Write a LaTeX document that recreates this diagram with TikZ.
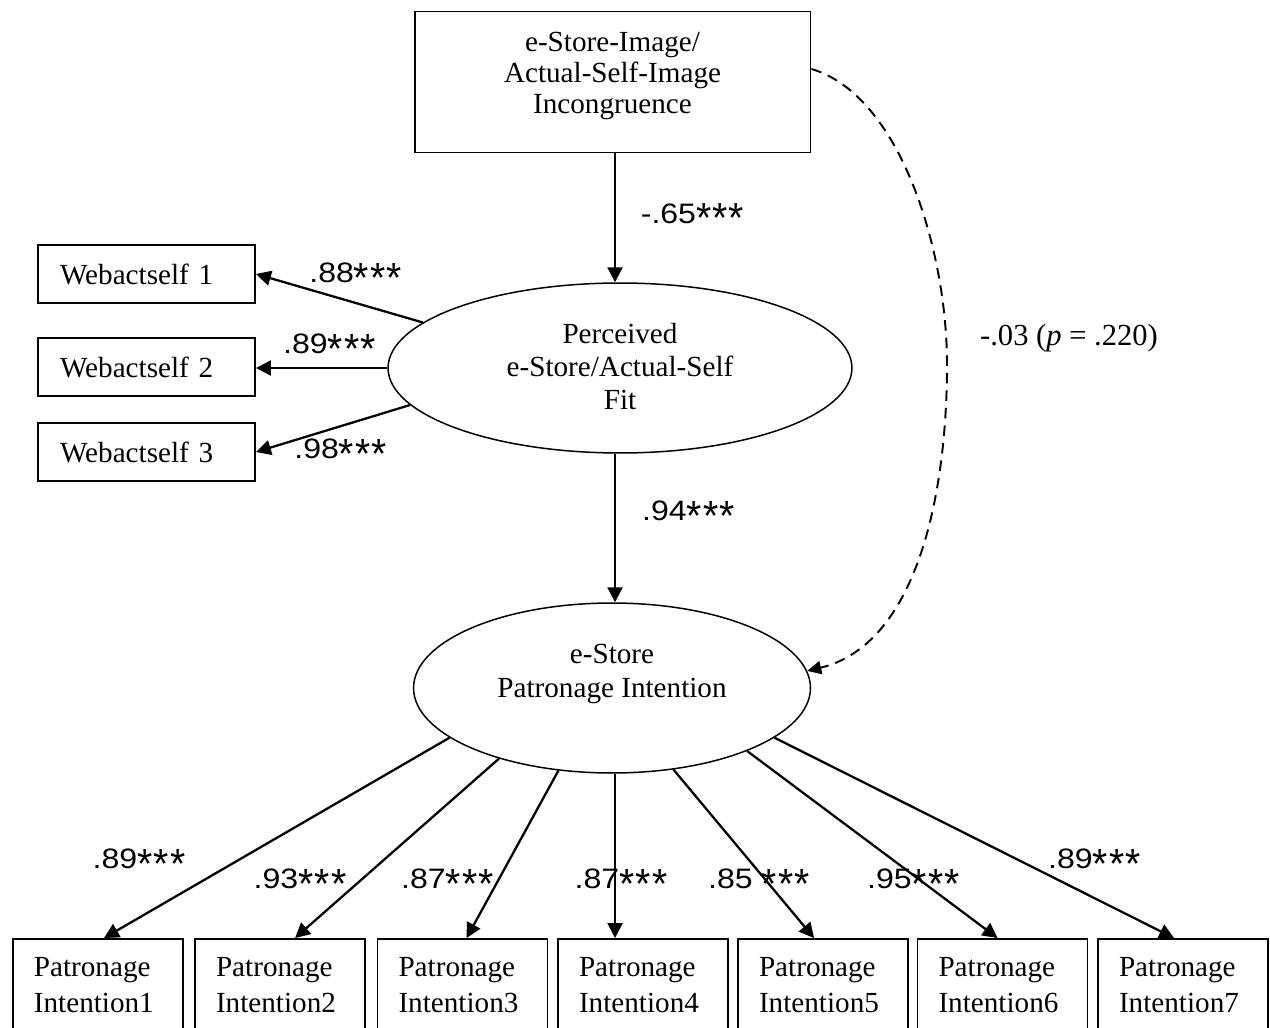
\documentclass[tikz,border=0pt]{standalone}
\usepackage{graphicx}
\usepackage{fontspec}
\setmainfont{Liberation Serif}
\newfontfamily\coeffont[FakeStretch=1.14]{Liberation Sans}
\usetikzlibrary{arrows.meta,shapes.geometric,calc}
% significance stars, drawn a little larger and looser than the font's own asterisks
\newcommand\onestar{\scalebox{1.22}[1.5]{*}}
\newcommand\sigstars{\raisebox{-5.3pt}{\onestar\kern0.7pt\onestar\kern0.7pt\onestar}}

\begin{document}
\begin{tikzpicture}[x=0.02cm, y=-0.02cm,
  every node/.style={font=\fontsize{16.6}{19}\selectfont},
  factorbox/.style={draw, line width=1.1pt, rectangle, inner sep=0pt,
    minimum width=7.92cm, minimum height=2.82cm},
  webbox/.style={draw, line width=1.1pt, rectangle, inner ysep=0pt,
    inner xsep=0.44cm, text width=3.46cm, align=left, minimum height=1.16cm},
  intbox/.style={draw, line width=1.1pt, rectangle, inner ysep=0pt,
    inner xsep=0.42cm, text width=2.56cm, align=left, minimum height=1.852cm,
    font=\fontsize{16.6}{20.4}\selectfont},
  latent/.style={draw, ellipse, line width=0.85pt, inner sep=0pt},
  caption/.style={align=center, inner sep=0pt},
  coef/.style={inner sep=0pt, yshift=-0.07cm, font=\coeffont\fontsize{16}{19}\selectfont},
  effect/.style={line width=1.3pt, -{Triangle[length=8.5pt,width=8.5pt]}},
  direct/.style={line width=1.1pt, dash pattern=on 6pt off 4pt,
    -{Triangle[length=8pt,width=7.5pt]}}
]
\useasboundingbox (0,0) rectangle (1270,1027);

% exogenous factor
\node[factorbox] (incong) at (612.5,82) {};
\node[caption, font=\fontsize{16.6}{17.6}\selectfont] (incongtext) at (612.5,76) {e-Store-Image/\\Actual-Self-Image\\Incongruence};

% latent variables
\node[latent, minimum width=9.28cm, minimum height=3.4cm] (pe) at (620,368) {};
\node[caption, font=\fontsize{16.6}{19}\selectfont] (petext) at (620,366.5) {Perceived\\e-Store/Actual-Self\\Fit};
\node[latent, minimum width=7.94cm, minimum height=3.4cm] (pi) at (612,688) {};
\node[caption, font=\fontsize{16.6}{19.8}\selectfont] (pitext) at (612,674) {e-Store\\Patronage Intention};

% indicators of perceived fit
\node[webbox] (w1) at (146.5,274) {Webactself 1};
\node[webbox] (w2) at (146.5,367) {Webactself 2};
\node[webbox] (w3) at (146.5,452) {Webactself 3};

% indicators of patronage intention
\node[intbox] (b1) at (97.9,985.3) {Patronage\\Intention1};
\node[intbox] (b2) at (280,985.3) {Patronage\\Intention2};
\node[intbox] (b3) at (462.5,985.3) {Patronage\\Intention3};
\node[intbox] (b4) at (643,985.3) {Patronage\\Intention4};
\node[intbox] (b5) at (823,985.3) {Patronage\\Intention5};
\node[intbox] (b6) at (1002.5,985.3) {Patronage\\Intention6};
\node[intbox] (b7) at (1183,985.3) {Patronage\\Intention7};

% arrow end points on the indicator boxes
\coordinate (axis) at (615,0);
\coordinate (t1) at ($(b1.north west)+(92,0)$);
\coordinate (t2) at ($(b2.north west)+(101,0)$);
\coordinate (t3) at ($(b3.north west)+(90,0)$);
\coordinate (t4) at ($(b4.north west)+(58,0)$);
\coordinate (t5) at ($(b5.north west)+(77,0)$);
\coordinate (t6) at ($(b6.north west)+(81,0)$);
\coordinate (t7) at ($(b7.north west)+(77,0)$);

% structural paths
\draw[effect] (incong.south -| axis) -- (pe.north -| axis);
\draw[effect] (pe.south -| axis) -- (pi.north -| axis);
\coordinate (dbend) at (947,364);
\draw[direct] ($(incong.east)+(0,-13)$) .. controls (900,95) and (947,250) .. (dbend)
  .. controls (947,500) and (915,645) .. (pi.5);

% loadings of perceived fit
\draw[effect] (pe.167.4) -- (w1.east);
\draw[effect] (pe.west) -- (pe.west -| w2.east);
\draw[effect] (pe.190.9) -- (w3.east);

% loadings of patronage intention
\draw[effect] (pi.197.1) -- (t1);
\draw[effect] (pi.212.9) -- (t2);
\draw[effect] (pi.237.2) -- (t3);
\draw[effect] (pi.south -| t4) -- (t4);
\draw[effect] (pi.307.5) -- (t5);
\draw[effect] (pi.335) -- (t6);
\draw[effect] (pi.343.7) -- (t7);

% coefficients
\node[coef] (c65) at (692.5,214.5) {-.65\sigstars};
\node[coef] (c94) at (688.5,512) {.94\sigstars};
\node[coef] (c88) at (355.7,274) {.88\sigstars};
\node[coef] (c89w) at (329.5,345) {.89\sigstars};
\node[coef] (c98) at (340.7,450) {.98\sigstars};
\node[inner sep=0pt, font=\fontsize{17.4}{19}\selectfont] (cdirect) at (1069,338.5) {-.03 (\textit{p} = .220)};
\node[coef] (l1) at (139,860) {.89\sigstars};
\node[coef] (l2) at (300,880) {.93\sigstars};
\node[coef] (l3) at (447.5,880) {.87\sigstars};
\node[coef] (l4) at (621,880) {.87\sigstars};
\node[coef] (l5) at (759,880) {.85 \sigstars};
\node[coef] (l6) at (913.5,880) {.95\sigstars};
\node[coef] (l7) at (1094.5,860) {.89\sigstars};
\end{tikzpicture}
\end{document}
